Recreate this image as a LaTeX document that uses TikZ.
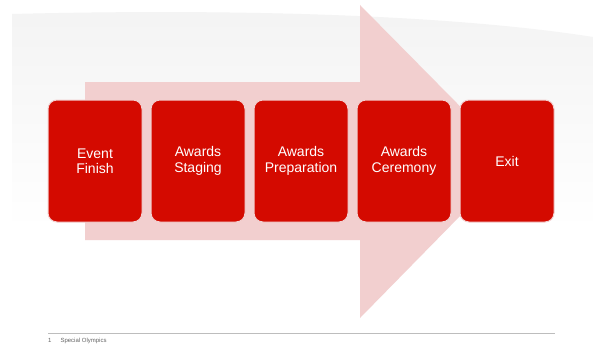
\documentclass[tikz,border=0pt]{standalone}
\usepackage{fontspec}
\setmainfont{Liberation Sans}
\usepackage{xcolor}
\usepackage{tikz}
\usetikzlibrary{positioning}
\definecolor{StageRed}{HTML}{D40A00}
\definecolor{ArrowPink}{HTML}{F2CFCF}
\definecolor{RuleGray}{HTML}{BDBDBD}
\tikzset{
  stage/.style={fill=StageRed,draw=ArrowPink,line width=1pt,rounded corners=9pt,
    minimum width=94pt,minimum height=122pt,text=white,align=center,
    font=\fontsize{14}{15.5}\selectfont,inner sep=0pt}
}

\begin{document}
\begin{tikzpicture}[x=1pt,y=-1pt]
  \useasboundingbox (0,0) rectangle (593,345);
  \fill[white] (0,0) rectangle (593,345);

  % Background: grey swoosh
  \shade[top color=gray!9,bottom color=white]
    (12,14) .. controls (250,8) and (460,16) .. (593,37)
    -- (593,230) -- (12,230) -- cycle;

  % Big arrow behind the steps
  \fill[ArrowPink] (85,82) -- (360,82) -- (360,5) -- (514,161)
    -- (360,318) -- (360,240) -- (85,240) -- cycle;

  % Steps
  \node[stage] (finish) at (95,161) {Event\\Finish};
  \node[stage,right=8pt of finish] (staging) {Awards\\Staging};
  \node[stage,right=8pt of staging] (prep) {Awards\\Preparation};
  \node[stage,right=8pt of prep] (ceremony) {Awards\\Ceremony};
  \node[stage,right=8pt of ceremony] (exit) {Exit};

  % Footnote
  \coordinate (ruleL) at (48,333);
  \coordinate (ruleR) at (555,333);
  \draw[RuleGray,line width=0.6pt] (ruleL) -- (ruleR);
  \node[anchor=west,text=gray!80!black,font=\fontsize{6}{7}\selectfont,inner sep=0pt]
    (note) at (48,341) {1\hspace{9pt}Special Olympics};
\end{tikzpicture}
\end{document}
